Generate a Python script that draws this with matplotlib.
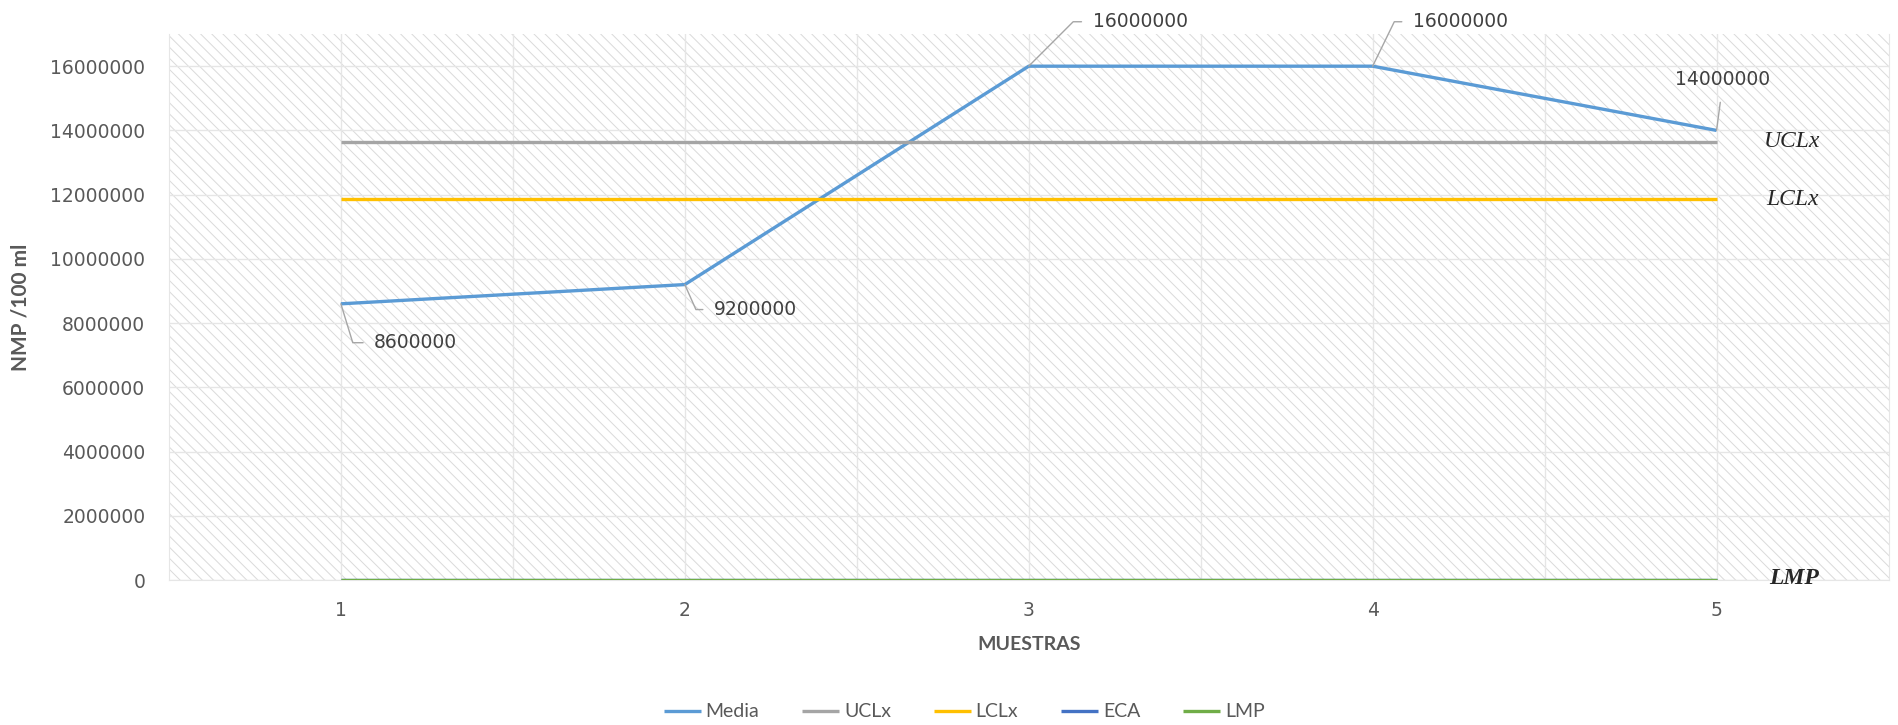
import matplotlib
matplotlib.use("Agg")
import matplotlib.pyplot as plt
from matplotlib.patches import Rectangle

# Muestras y valores (NMP/100 ml)
muestras = [1, 2, 3, 4, 5]
media = [8600000, 9200000, 16000000, 16000000, 14000000]
uclx = [13650000] * 5
lclx = [11850000] * 5
eca = [0] * 5
lmp = [0] * 5

series = [
    ("Media", media, "#5b9bd5"),
    ("UCLx", uclx, "#a5a5a5"),
    ("LCLx", lclx, "#ffc000"),
    ("ECA", eca, "#4472c4"),
    ("LMP", lmp, "#70ad47"),
]

# posición de cada etiqueta de dato (puntos) y ángulo de la línea guía
etiquetas = [
    ((24, -28), 107),
    ((21, -18), 114),
    ((46, 32), 45),
    ((29, 32), 64),
]

plt.rcParams["hatch.linewidth"] = 0.7
plt.rcParams["hatch.color"] = "#dadada"

fig = plt.figure(figsize=(18.98, 7.25), dpi=100)
ax = fig.add_axes([0.089, 0.2, 0.906, 0.753])

# fondo con trama diagonal
ax.add_patch(Rectangle((0, 0), 1, 1, transform=ax.transAxes, facecolor="white",
                       edgecolor="#dadada", hatch="\\\\\\", lw=0, zorder=0))

for nombre, valores, color in series:
    ax.plot(muestras, valores, color=color, lw=2.4, label=nombre,
            solid_capstyle="butt", zorder=3)

ax.set_xlim(0.5, 5.5)
ax.set_ylim(0, 17000000)
ax.set_xticks(muestras)
ax.set_xticks([1.5, 2.5, 3.5, 4.5], minor=True)
ax.set_yticks(range(0, 16000001, 2000000))
ax.set_yticklabels([str(v) for v in range(0, 16000001, 2000000)])
ax.set_axisbelow(True)
ax.grid(True, which="both", axis="x", color="#e6e6e6", lw=1.0)
ax.grid(True, which="major", axis="y", color="#e6e6e6", lw=1.0)
ax.tick_params(which="both", length=0, labelsize=13.5, labelcolor="#595959")
ax.tick_params(axis="y", pad=17)
ax.tick_params(axis="x", pad=15)
ax.spines["top"].set_visible(False)
for lado in ("left", "right", "bottom"):
    ax.spines[lado].set_color("#e6e6e6")

ax.set_xlabel("MUESTRAS", fontsize=14, fontweight="bold", color="#595959",
              family="Lato", labelpad=12)
ax.set_ylabel("NMP /100 ml", fontsize=15, fontweight="bold", color="#595959",
              family="Lato", labelpad=14)

# etiquetas de datos con línea guía
for x, y, ((dx, dy), ang) in zip(muestras[:4], media[:4], etiquetas):
    ax.annotate(str(y), xy=(x, y), xytext=(dx, dy), textcoords="offset points",
                ha="left", va="center", fontsize=13.5, color="#404040",
                annotation_clip=False,
                arrowprops=dict(arrowstyle="-", color="#a6a6a6", lw=1.0,
                                relpos=(0, 0.5), shrinkA=6, shrinkB=0,
                                connectionstyle=f"angle,angleA=0,angleB={ang},rad=0"))
ax.annotate(str(media[4]), xy=(muestras[4], media[4]), xytext=(4, 37),
            textcoords="offset points", ha="center", va="center",
            fontsize=13.5, color="#404040", annotation_clip=False,
            arrowprops=dict(arrowstyle="-", color="#a6a6a6", lw=1.0,
                            relpos=(0.5, 0), shrinkA=8, shrinkB=0))

# nombres de los límites al lado derecho
ax.text(5.22, uclx[-1], "UCLx", ha="center", va="center", fontsize=17,
        style="italic", family="Liberation Serif", color="#262626")
ax.text(5.22, lclx[-1], "LCLx", ha="center", va="center", fontsize=17,
        style="italic", family="Liberation Serif", color="#262626")
ax.text(5.225, lmp[-1] + 60000, "LMP", ha="center", va="center", fontsize=17,
        style="italic", fontweight="bold", family="Liberation Serif", color="#262626")

fig.legend(loc="center", bbox_to_anchor=(0.508, 0.018), ncol=5, frameon=False,
           prop={"family": "Lato", "size": 14}, labelcolor="#595959",
           handlelength=1.9, handletextpad=0.25, columnspacing=2.2)

fig.savefig("out.png", dpi=100)
